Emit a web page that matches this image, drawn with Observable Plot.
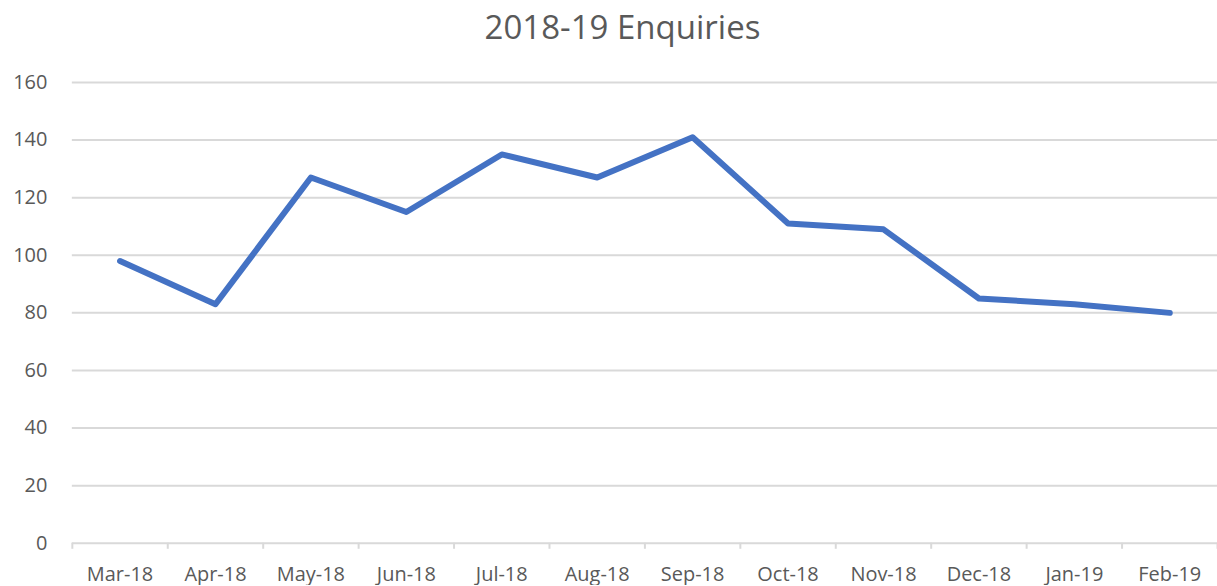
<!DOCTYPE html>
<html>
<head>
<meta charset="utf-8">
<script src="https://cdn.jsdelivr.net/npm/d3@7"></script>
<script src="https://cdn.jsdelivr.net/npm/@observablehq/plot@0.6"></script>
<style>
  html, body { margin: 0; padding: 0; background: #fff; overflow: hidden; }
  #title { width: 1217px; box-sizing: border-box; padding-left: 28px; height: 56px; line-height: 54px;
           text-align: center; font-family: "Open Sans", sans-serif; font-size: 33px; color: #595959; }
</style>
</head>
<body>
<div id="title">2018-19 Enquiries</div>
<div id="chart"></div>
<script>
const months = ["Mar-18","Apr-18","May-18","Jun-18","Jul-18","Aug-18","Sep-18","Oct-18","Nov-18","Dec-18","Jan-19","Feb-19"];
const enquiries = [98, 83, 127, 115, 135, 127, 141, 111, 109, 85, 83, 80];
const yTicks = [0, 20, 40, 60, 80, 100, 120, 140, 160];

const data = months.map((m, i) => ({i, month: m, value: enquiries[i]}));
const idx = d3.range(months.length);
const boundaries = d3.range(months.length + 1).map(k => k - 0.5);

const chart = Plot.plot({
  width: 1220,
  height: 530,
  marginLeft: 72,
  marginRight: 0,
  marginTop: 26,
  marginBottom: 42,
  style: {fontFamily: "Open Sans", fontSize: "20px", color: "#595959", background: "white", overflow: "visible"},
  x: {type: "linear", domain: [-0.5, months.length - 0.5]},
  y: {domain: [0, 160]},
  marks: [
    Plot.ruleY(yTicks, {stroke: "#d9d9d9", strokeWidth: 2}),
    Plot.axisY({ticks: yTicks, tickSize: 0, tickPadding: 25, label: null}),
    Plot.axisX({ticks: boundaries, tickSize: 6, tickFormat: () => "", stroke: "#d9d9d9", strokeWidth: 2, label: null}),
    Plot.axisX({ticks: idx, tickSize: 0, tickPadding: 24, tickFormat: i => months[i], label: null}),
    Plot.line(data, {x: "i", y: "value", stroke: "#4472C4", strokeWidth: 6, strokeLinecap: "round", strokeLinejoin: "round"})
  ]
});
document.getElementById("chart").appendChild(chart);
</script>
</body>
</html>
